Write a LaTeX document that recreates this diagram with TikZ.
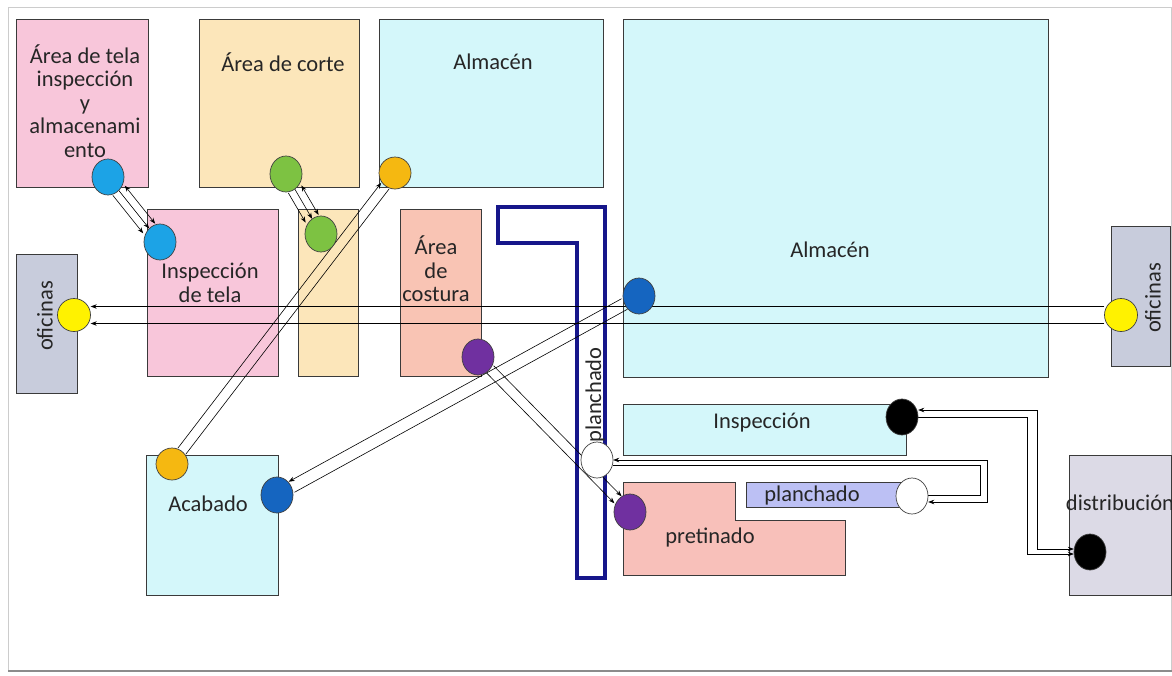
\documentclass[tikz,border=0pt]{standalone}
\usepackage{fontspec}
\setmainfont{Carlito}
\usetikzlibrary{shapes.geometric,calc,arrows.meta}
\definecolor{pinkc}{HTML}{F8C6DA}
\definecolor{beigec}{HTML}{FCE6BA}
\definecolor{cyanc}{HTML}{D4F7FA}
\definecolor{salmonc}{HTML}{F9C4B4}
\definecolor{pretc}{HTML}{F8C0BA}
\definecolor{offc}{HTML}{C8CCDC}
\definecolor{lavc}{HTML}{BCC0F4}
\definecolor{distc}{HTML}{DCDAE6}
\definecolor{roomline}{HTML}{3A3A3A}
\definecolor{txt}{HTML}{262626}
\definecolor{navyc}{HTML}{16168A}
\definecolor{lblue}{HTML}{1CA3E6}
\definecolor{greenc}{HTML}{7DC242}
\definecolor{orangec}{HTML}{F5B811}
\definecolor{yellowc}{HTML}{FFF200}
\definecolor{dblue}{HTML}{1565C0}
\definecolor{purplec}{HTML}{7030A0}
\begin{document}
\begin{tikzpicture}[x=1pt,y=-1pt,
  room/.style={draw=roomline, line width=0.9pt, anchor=north west, inner sep=0pt},
  lbl/.style={font=\fontsize{22.5}{23.5}\selectfont, text=txt, align=center, inner sep=0pt},
  dot/.style={ellipse, minimum width=32, minimum height=36, inner sep=0pt},
  flow/.style={line width=0.6pt, -{Stealth[length=6pt,width=4.5pt]}},
  flowb/.style={line width=0.6pt, {Stealth[length=6pt,width=4.5pt]}-{Stealth[length=6pt,width=4.5pt]}},
  plain/.style={line width=0.6pt},
  disc/.style={draw=black!75, line width=0.7pt}]
\useasboundingbox (0,0) rectangle (1172,675);
\fill[white] (0,0) rectangle (1172,675);
\draw[black!20, line width=1pt] (8,7) rectangle (1171,670);
\draw[black!45, line width=2pt] (8,671) -- (1172,671);

% rooms
\node[room, fill=pinkc, minimum width=132, minimum height=168] (r1) at (16,19) {};
\node[room, fill=beigec, minimum width=160, minimum height=168] (r2) at (199,19) {};
\node[room, fill=cyanc, minimum width=224, minimum height=168] (r3) at (379,19) {};
\node[room, fill=cyanc, minimum width=425, minimum height=358] (r4) at (623,19) {};
\node[room, fill=pinkc, minimum width=131, minimum height=167] (r5) at (147,209) {};
\node[room, fill=beigec, minimum width=60, minimum height=167] (r6) at (298,209) {};
\node[room, fill=salmonc, minimum width=81, minimum height=167] (r7) at (400,209) {};
\node[room, fill=offc, minimum width=61, minimum height=139] (r8) at (16,254) {};
\node[room, fill=offc, minimum width=59, minimum height=140] (r9) at (1111,226) {};
\node[room, fill=cyanc, minimum width=283, minimum height=51] (r10) at (623,404) {};
\draw[roomline, line width=0.9pt, fill=pretc] (623,482) -- (735,482) -- (735,520) -- (845,520) -- (845,575) -- (623,575) -- cycle;
\node[room, fill=lavc, minimum width=159, minimum height=25] (r12) at (746,482) {};
\node[room, fill=distc, minimum width=102, minimum height=140] (r13) at (1069,455) {};
\node[room, fill=cyanc, minimum width=132, minimum height=140] (r14) at (146,455) {};
\draw[navyc, line width=3.5pt] (498,207) -- (605,207) -- (605,578) -- (577,578) -- (577,243) -- (498,243) -- cycle;

% labels
\node[lbl] (t1) at (85,101) {Área de tela\\inspección\\y\\almacenami\\ento};
\node[lbl] (t2) at (283,62) {Área de corte};
\node[lbl] (t3) at (493,62) {Almacén};
\node[lbl] (t4) at (830,250) {Almacén};
\node[lbl] (t5) at (210,283) {Inspección\\de tela};
\node[lbl] (t6) at (436,269) {Área\\de\\costura};
\node[lbl, rotate=90] (t7) at (45,316) {oficinas};
\node[lbl, rotate=90] (t8) at (1153,298) {oficinas};
\node[lbl] (t9) at (762,423) {Inspección};
\node[lbl] (t10) at (812,495) {planchado};
\node[lbl] (t11) at (710,537) {pretinado};
\node[lbl] (t12) at (1120,503) {distribución};
\node[lbl] (t13) at (208,504) {Acabado};
\node[lbl, rotate=90] (t14) at (595,395) {planchado};

% circle nodes (shapes drawn after connectors)
\node[dot] (b1) at (108,177) {};
\node[dot] (b2) at (160,242) {};
\node[dot] (g1) at (286,174) {};
\node[dot] (g2) at (321,234) {};
\node[dot, minimum width=32, minimum height=32] (o1) at (395,173) {};
\node[dot, minimum width=32, minimum height=32] (o2) at (172,464) {};
\node[dot, minimum width=33, minimum height=33] (y1) at (74,315) {};
\node[dot, minimum width=33, minimum height=33] (y2) at (1121,315) {};
\node[dot] (d1) at (639,296) {};
\node[dot] (d2) at (277,495) {};
\node[dot] (p1) at (478,357) {};
\node[dot] (p2) at (630,512) {};
\node[dot] (w1) at (597,460) {};
\node[dot] (w2) at (912,496) {};
\node[dot] (k1) at (902,417) {};
\node[dot] (k2) at (1090,552) {};

% connectors
\draw[flow, transform canvas={xshift=-6pt, yshift=-4.8pt}] (b1) -- (b2);
\draw[flow] (b1) -- (b2);
\draw[flowb, transform canvas={xshift=6pt, yshift=4.8pt}] (b1) -- (b2);
\draw[flow, transform canvas={xshift=-6.5pt, yshift=-3.8pt}] (g1) -- (g2);
\draw[flow] (g1) -- (g2);
\draw[flowb, transform canvas={xshift=6.5pt, yshift=3.8pt}] (g1) -- (g2);
\draw[flow, transform canvas={xshift=-4pt, yshift=3pt}] (o2) -- (o1);
\draw[plain, transform canvas={xshift=4pt, yshift=-3pt}] (o2) -- (o1);
\draw[flow, transform canvas={yshift=8.5pt}] (y2) -- (y1);
\draw[flow, transform canvas={yshift=-8.5pt}] (y2) -- (y1);
\draw[flow, transform canvas={xshift=-2.9pt, yshift=5.3pt}] (d1) -- (d2);
\draw[plain, transform canvas={xshift=2.9pt, yshift=-5.3pt}] (d1) -- (d2);
\draw[flow, transform canvas={xshift=3.6pt, yshift=3.5pt}] (p1) -- (p2);
\draw[flow, transform canvas={xshift=-3.6pt, yshift=-3.5pt}] (p1) -- (p2);
\draw[flowb] ([yshift=7pt]k1.east) -- (1037,410) |- ([yshift=3pt]k2.west);
\draw[flow] (k1.east) -- (1027,417) |- ([yshift=-2pt]k2.west);
\draw[flowb] (w1.east) -- (987,460) |- ([yshift=-6pt]w2.east);
\draw[plain] ([yshift=-5pt]w1.east) -- (980,465) |- ([yshift=1pt]w2.east);

% circles on top
\foreach \n/\c in {b1/lblue,b2/lblue,g1/greenc,g2/greenc,d1/dblue,d2/dblue,p1/purplec,p2/purplec,w1/white,w2/white,k1/black,k2/black}{
  \path[disc, fill=\c] (\n.center) ellipse [x radius=16, y radius=18];
}
\foreach \n in {o1,o2}{
  \path[disc, fill=orangec] (\n.center) circle [radius=16];
}
\foreach \n in {y1,y2}{
  \path[disc, fill=yellowc] (\n.center) circle [radius=16.5];
}
\end{tikzpicture}
\end{document}
